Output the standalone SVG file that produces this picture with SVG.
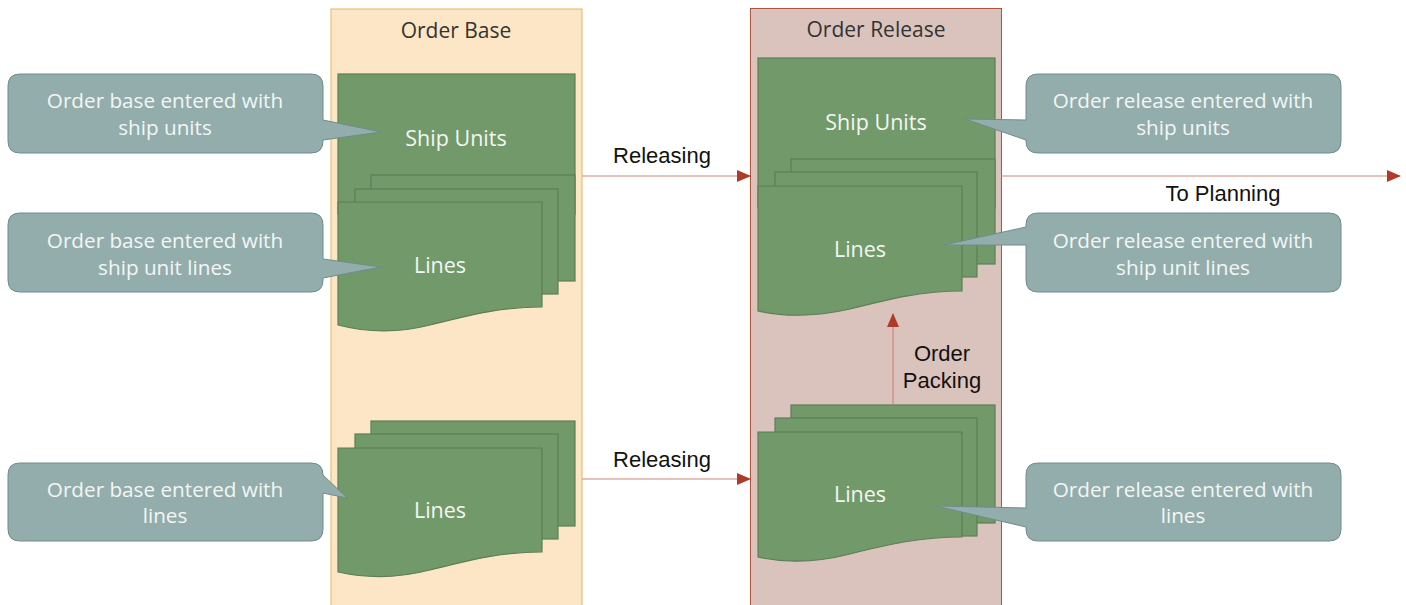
<svg xmlns="http://www.w3.org/2000/svg" width="1406" height="605" viewBox="0 0 1406 605">
<style>
.pg{fill:#72996a;stroke:#5b7f56;stroke-width:1.2}
.co{fill:#93adad;stroke:#6f8c8c;stroke-width:1}
.ct{font-family:"Open Sans","Noto Sans",sans-serif;font-size:20.7px;fill:#f4f6f4;text-anchor:middle}
.pt{font-family:"Open Sans","Noto Sans",sans-serif;font-size:21.5px;fill:#f4f6f4;text-anchor:middle}
.ht{font-family:"Open Sans","Noto Sans",sans-serif;font-size:21px;fill:#333;text-anchor:middle}
.lt{font-family:"Liberation Sans",Arial,sans-serif;font-size:22px;fill:#111;text-anchor:middle}
.cn{stroke:#d0857a;stroke-width:1.2;fill:none}
</style>
<defs>
<marker id="ah" markerWidth="14" markerHeight="12" refX="13" refY="6" orient="auto" markerUnits="userSpaceOnUse">
<path d="M0,0 L14,6 L0,12 Z" fill="#b03a2a"/>
</marker>
</defs>
<rect width="1406" height="605" fill="#fff"/>

<g id="col-order-base">
<rect x="331" y="9" width="251" height="600" fill="#fde6c6" stroke="#e2b75c" stroke-width="1"/>
<text class="ht" x="456" y="38">Order Base</text>
</g>
<g id="col-order-release">
<rect x="750.5" y="8.5" width="251" height="600" fill="#dbc3bd" stroke="#b0553c" stroke-width="1"/>
<text class="ht" x="876" y="37">Order Release</text>
</g>

<g id="ob-ship-units">
<rect class="pg" x="338" y="74" width="237" height="140"/>
<text class="pt" x="456" y="146">Ship Units</text>
</g>
<g id="ob-lines-1">
<rect class="pg" x="371" y="175" width="204" height="106"/>
<rect class="pg" x="355" y="189" width="203" height="105"/>
<path class="pg" d="M338,202 L542,202 L542,307 C500,307 470,315 430,325 C395,334 365,332 338,325 Z"/>
<text class="pt" x="440" y="273">Lines</text>
</g>
<g id="ob-lines-2">
<rect class="pg" x="371" y="421" width="204" height="105"/>
<rect class="pg" x="355" y="434" width="203" height="105"/>
<path class="pg" d="M338,448 L542,448 L542,552 C500,552 470,560 430,570 C395,579 365,578 338,572 Z"/>
<text class="pt" x="440" y="518">Lines</text>
</g>

<g id="or-ship-units">
<rect class="pg" x="758" y="58" width="237" height="150"/>
<text class="pt" x="876" y="130">Ship Units</text>
</g>
<g id="or-lines-1">
<rect class="pg" x="791" y="159" width="204" height="105"/>
<rect class="pg" x="775" y="172" width="202" height="105"/>
<path class="pg" d="M758,186 L962,186 L962,291 C920,291 890,299 850,309 C815,317 785,317 758,311 Z"/>
<text class="pt" x="860" y="257">Lines</text>
</g>
<g id="or-lines-2">
<rect class="pg" x="791" y="405" width="204" height="118"/>
<rect class="pg" x="775" y="418" width="202" height="118"/>
<path class="pg" d="M758,432 L962,432 L962,537 C920,537 890,544 850,554 C815,563 785,563 758,557 Z"/>
<text class="pt" x="860" y="502">Lines</text>
</g>

<g id="callout-ob-ship-units">
<path class="co" d="M20,74 H311 Q323,74 323,86 V120 L381,132 L323,140 V141 Q323,153 311,153 H20 Q8,153 8,141 V86 Q8,74 20,74 Z"/>
<text class="ct" x="165" y="108">Order base entered with</text>
<text class="ct" x="165" y="135">ship units</text>
</g>
<g id="callout-ob-lines">
<path class="co" d="M20,213 H311 Q323,213 323,225 V259 L381,267 L323,278 V280 Q323,292 311,292 H20 Q8,292 8,280 V225 Q8,213 20,213 Z"/>
<text class="ct" x="165" y="248">Order base entered with</text>
<text class="ct" x="165" y="275">ship unit lines</text>
</g>
<g id="callout-ob-lines-2">
<path class="co" d="M20,463 H311 Q323,463 323,475 L347,498 L323,493 V529 Q323,541 311,541 H20 Q8,541 8,529 V475 Q8,463 20,463 Z"/>
<text class="ct" x="165" y="497">Order base entered with</text>
<text class="ct" x="165" y="523">lines</text>
</g>

<g id="callout-or-ship-units">
<path class="co" d="M1038,74 H1329 Q1341,74 1341,86 V141 Q1341,153 1329,153 H1038 Q1026,153 1026,141 V140 L965,119 L1026,120 V86 Q1026,74 1038,74 Z"/>
<text class="ct" x="1183" y="108">Order release entered with</text>
<text class="ct" x="1183" y="135">ship units</text>
</g>
<g id="callout-or-lines">
<path class="co" d="M1038,213 H1329 Q1341,213 1341,225 V280 Q1341,292 1329,292 H1038 Q1026,292 1026,280 V245 L944,245 L1026,227 V225 Q1026,213 1038,213 Z"/>
<text class="ct" x="1183" y="248">Order release entered with</text>
<text class="ct" x="1183" y="275">ship unit lines</text>
</g>
<g id="callout-or-lines-2">
<path class="co" d="M1038,463 H1329 Q1341,463 1341,475 V529 Q1341,541 1329,541 H1038 Q1026,541 1026,529 V527 L936,506 L1026,508 V475 Q1026,463 1038,463 Z"/>
<text class="ct" x="1183" y="497">Order release entered with</text>
<text class="ct" x="1183" y="523">lines</text>
</g>

<g id="connectors">
<line class="cn" x1="582" y1="176" x2="750" y2="176" marker-end="url(#ah)"/>
<line class="cn" x1="582" y1="479" x2="750" y2="479" marker-end="url(#ah)"/>
<line class="cn" x1="1001" y1="176" x2="1400" y2="176" marker-end="url(#ah)"/>
<line class="cn" x1="893" y1="405" x2="893" y2="314" marker-end="url(#ah)"/>
<text class="lt" x="662" y="163">Releasing</text>
<text class="lt" x="662" y="467">Releasing</text>
<text class="lt" x="1223" y="201">To Planning</text>
<text class="lt" x="942" y="361">Order</text>
<text class="lt" x="942" y="388">Packing</text>
</g>
</svg>
